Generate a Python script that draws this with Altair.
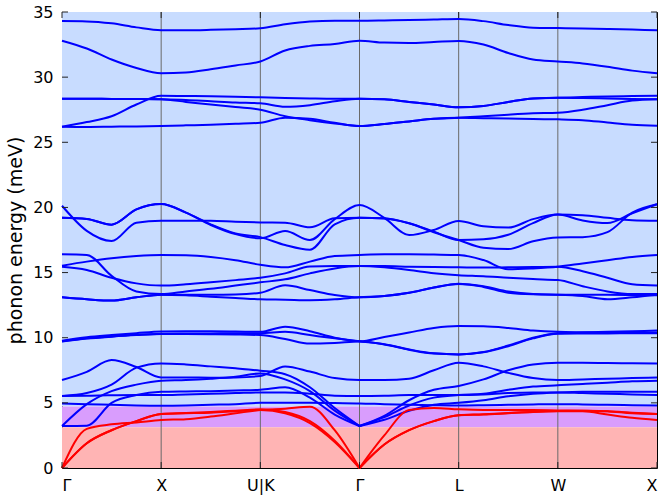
import altair as alt
import pandas as pd

# Path coordinate along the Brillouin-zone route (equal spacing per segment)
k_path = [0, 0.25, 0.5, 0.75, 1, 1.25, 1.5, 1.75, 2, 2.25, 2.5, 2.75, 3,
          3.25, 3.5, 3.75, 4, 4.25, 4.5, 4.75, 5, 5.25, 5.5, 5.75, 6]
sym_pos = [0, 1, 2, 3, 4, 5, 6]
sym_labels = ["Γ", "X", "U|K", "Γ", "L", "W", "X"]
energy_ticks = [0, 5, 10, 15, 20, 25, 30, 35]

# Shaded energy windows (meV): optical range, overlap, acoustic range
window_names = ["optical", "overlap", "acoustic"]
window_lo = [4.72, 3.12, 0.0]
window_hi = [35.0, 4.72, 3.12]

# Optical branches (meV)
h_top = [34.3, 34.28, 34.13, 33.82, 33.6, 33.6, 33.63, 33.68, 33.75, 34.06, 34.27, 34.33, 34.33,
         34.35, 34.38, 34.42, 34.46, 34.3, 34.0, 33.8, 33.77, 33.74, 33.7, 33.65, 33.6]
h_32 = [32.8, 32.2, 31.35, 30.7, 30.3, 30.35, 30.6, 30.9, 31.2, 32.05, 32.4, 32.55, 32.8,
        32.65, 32.62, 32.7, 32.78, 32.5, 31.85, 31.35, 31.2, 31.05, 30.8, 30.5, 30.3]
h_28a = [28.35, 28.35, 28.33, 28.32, 28.3, 28.25, 28.15, 28.05, 27.99, 27.72, 27.85, 28.15, 28.35,
         28.3, 28.1, 27.9, 27.68, 27.78, 28.1, 28.37, 28.42, 28.47, 28.52, 28.55, 28.57]
h_28b = [28.35, 28.35, 28.33, 28.32, 28.3, 28.1, 27.9, 27.7, 27.5, 27.0, 26.7, 26.45, 26.25,
         26.4, 26.6, 26.8, 26.88, 27.0, 27.12, 27.22, 27.27, 27.5, 27.85, 28.2, 28.3]
h_26a = [26.2, 26.55, 27.0, 27.9, 28.57, 28.55, 28.53, 28.5, 28.45, 28.4, 28.37, 28.35, 28.35,
         28.3, 28.1, 27.9, 27.68, 27.78, 28.1, 28.37, 28.42, 28.4, 28.36, 28.32, 28.3]
h_26b = [26.2, 26.18, 26.2, 26.22, 26.25, 26.3, 26.35, 26.42, 26.5, 26.88, 26.8, 26.5, 26.25,
         26.4, 26.6, 26.8, 26.88, 26.85, 26.82, 26.78, 26.76, 26.7, 26.52, 26.35, 26.27]

m_1 = [20.13, 18.2, 17.42, 18.83, 18.98, 18.98, 18.97, 18.9, 18.85, 18.83, 18.47, 19.16, 19.2,
       19.16, 18.78, 18.14, 17.5, 17.55, 17.9, 18.8, 19.45, 19.4, 19.2, 19.02, 18.98]
m_2 = [19.21, 19.12, 18.68, 19.85, 20.26, 19.6, 18.65, 17.95, 17.63, 18.19, 17.5, 19.1, 20.18,
       19.2, 17.88, 18.27, 18.96, 18.55, 18.45, 19.1, 19.45, 19.0, 18.8, 19.55, 20.24]
m_3 = [19.21, 19.12, 18.68, 19.85, 20.26, 19.6, 18.7, 18.0, 17.72, 17.11, 16.75, 18.7, 19.2,
       19.15, 18.78, 18.1, 17.5, 16.9, 16.8, 17.4, 17.7, 17.72, 18.1, 19.6, 20.24]

g_1 = [16.4, 16.35, 14.75, 13.55, 13.35, 13.55, 13.75, 14.0, 14.25, 14.48, 14.94, 15.32, 15.5,
       15.4, 15.2, 14.95, 14.8, 14.72, 14.6, 14.5, 14.43, 13.95, 13.55, 13.35, 13.35]
g_2 = [15.53, 15.84, 16.1, 16.27, 16.35, 16.33, 16.2, 15.95, 15.6, 15.4, 15.84, 16.27, 16.35,
       16.4, 16.4, 16.38, 16.35, 15.96, 15.25, 15.32, 15.45, 15.7, 15.95, 16.2, 16.35]
g_3 = [15.45, 15.2, 14.6, 14.17, 14.0, 14.1, 14.25, 14.42, 14.6, 14.94, 15.46, 15.5, 15.5,
       15.5, 15.45, 15.42, 15.4, 15.38, 15.4, 15.42, 15.45, 15.1, 14.6, 14.1, 14.0]
g_4 = [13.1, 12.95, 12.85, 13.1, 13.3, 13.3, 13.3, 13.32, 13.45, 14.02, 13.66, 13.28, 13.1,
       13.2, 13.45, 13.85, 14.15, 13.9, 13.45, 13.33, 13.3, 13.2, 12.95, 13.1, 13.3]
g_5 = [13.1, 12.95, 12.85, 13.1, 13.3, 13.25, 13.15, 13.05, 12.95, 12.92, 12.88, 12.95, 13.1,
       13.2, 13.45, 13.85, 14.12, 13.95, 13.55, 13.35, 13.3, 13.3, 13.3, 13.28, 13.25]

t_1 = [9.77, 10.03, 10.2, 10.35, 10.48, 10.5, 10.5, 10.48, 10.45, 10.85, 10.5, 10.0, 9.72,
       10.05, 10.4, 10.75, 10.9, 10.88, 10.75, 10.55, 10.45, 10.42, 10.4, 10.4, 10.4]
t_2 = [9.72, 9.95, 10.1, 10.22, 10.3, 10.32, 10.33, 10.35, 10.35, 10.45, 10.2, 9.95, 9.72,
       9.5, 9.1, 8.8, 8.72, 8.9, 9.4, 10.0, 10.35, 10.4, 10.45, 10.5, 10.55]
t_3 = [9.7, 9.93, 10.08, 10.2, 10.28, 10.28, 10.27, 10.25, 10.2, 9.9, 9.55, 9.6, 9.7,
       9.48, 9.08, 8.78, 8.72, 8.88, 9.35, 9.95, 10.3, 10.32, 10.33, 10.34, 10.35]

l_1 = [6.75, 7.38, 8.28, 7.75, 6.95, 6.95, 6.93, 6.95, 7.06, 7.8, 7.4, 6.9, 6.75,
       6.75, 6.85, 7.5, 8.08, 7.8, 7.3, 6.9, 6.75, 6.8, 6.85, 6.9, 6.95]
l_2 = [5.53, 5.75, 6.4, 7.7, 8.03, 7.95, 7.8, 7.65, 7.47, 7.2, 6.2, 4.6, 3.22,
       4.0, 5.2, 6.0, 6.3, 6.8, 7.5, 7.95, 8.08, 8.08, 8.06, 8.04, 8.03]
l_3 = [3.22, 4.9, 5.9, 6.4, 6.7, 6.75, 6.85, 7.0, 7.26, 6.8, 5.9, 4.4, 3.22,
       3.9, 4.8, 5.4, 5.6, 5.7, 6.0, 6.25, 6.35, 6.45, 6.55, 6.65, 6.7]
l_4 = [5.53, 5.55, 5.58, 5.6, 5.6, 5.65, 5.7, 5.75, 5.8, 5.8, 5.7, 5.55, 5.53,
       5.55, 5.6, 5.6, 5.6, 5.65, 5.75, 5.8, 5.8, 5.75, 5.7, 5.65, 5.6]
l_5 = [3.22, 3.25, 5.0, 5.6, 5.85, 5.88, 5.9, 5.95, 6.0, 6.2, 5.4, 4.1, 3.22,
       3.7, 4.4, 4.85, 5.0, 5.2, 5.5, 5.7, 5.8, 5.85, 5.85, 5.85, 5.85]
l_6 = [4.96, 4.9, 4.85, 4.8, 4.78, 4.8, 4.85, 4.9, 5.0, 5.0, 5.0, 4.98, 4.96,
       4.9, 4.85, 4.82, 4.8, 4.82, 4.85, 4.88, 4.9, 4.88, 4.85, 4.82, 4.8]

# Acoustic branches (meV)
a_1 = [0, 3.0, 3.35, 3.5, 3.68, 3.75, 3.95, 4.2, 4.45, 4.55, 4.7, 2.9, 0,
       2.5, 4.45, 4.6, 4.5, 4.45, 4.45, 4.45, 4.42, 4.4, 4.35, 4.2, 4.15]
a_2 = [0, 1.9, 2.9, 3.6, 4.15, 4.2, 4.25, 4.35, 4.45, 4.2, 3.45, 2.0, 0,
       1.8, 2.9, 3.6, 4.05, 4.1, 4.2, 4.3, 4.35, 4.35, 4.1, 3.85, 3.68]
a_3 = [0, 1.9, 2.9, 3.6, 4.15, 4.22, 4.3, 4.4, 4.5, 4.3, 3.6, 2.1, 0,
       1.8, 2.9, 3.6, 4.05, 4.12, 4.22, 4.32, 4.38, 4.4, 4.35, 4.25, 4.15]

optical_bands = {
    "h_top": h_top, "h_32": h_32, "h_28a": h_28a, "h_28b": h_28b, "h_26a": h_26a, "h_26b": h_26b,
    "m_1": m_1, "m_2": m_2, "m_3": m_3,
    "g_1": g_1, "g_2": g_2, "g_3": g_3, "g_4": g_4, "g_5": g_5,
    "t_1": t_1, "t_2": t_2, "t_3": t_3,
    "l_1": l_1, "l_2": l_2, "l_3": l_3, "l_4": l_4, "l_5": l_5, "l_6": l_6,
}
acoustic_bands = {"a_1": a_1, "a_2": a_2, "a_3": a_3}

# Branches with a cusp at the zone-centre point in the middle of the path
cusp_at_gamma = {"a_1", "a_2", "a_3", "l_2", "l_3", "l_5"}
gamma_mid = sym_pos[3]


def to_long(bands):
    rows = []
    for name, vals in bands.items():
        for k, e in zip(k_path, vals):
            if name in cusp_at_gamma:
                if k <= gamma_mid:
                    rows.append({"band": name + "_left", "k": k, "E": e})
                if k >= gamma_mid:
                    rows.append({"band": name + "_right", "k": k, "E": e})
            else:
                rows.append({"band": name, "k": k, "E": e})
    return pd.DataFrame(rows)


opt_df = to_long(optical_bands)
ac_df = to_long(acoustic_bands)
win_df = pd.DataFrame({"region": window_names, "lo": window_lo, "hi": window_hi,
                       "k0": [sym_pos[0]] * 3, "k1": [sym_pos[-1]] * 3})
sym_df = pd.DataFrame({"k": sym_pos, "label": sym_labels})
inner_df = sym_df.iloc[1:-1]
ytick_df = pd.DataFrame({"E": energy_ticks})

W, H = 595, 456
xs = alt.Scale(domain=[0, 6], nice=False, zero=False)
ys = alt.Scale(domain=[0, 35], nice=False, zero=False)

label_expr = "[" + ",".join("'%s'" % s for s in sym_labels) + "][round(datum.value)]"

windows = alt.Chart(win_df).mark_rect().encode(
    x=alt.X("k0:Q", scale=xs, axis=alt.Axis(values=sym_pos, labelExpr=label_expr, title=None,
                                             grid=False, domain=False, ticks=False,
                                             labelFontSize=16, labelPadding=9,
                                             labelColor="#000", labelFont="DejaVu Sans")),
    x2="k1:Q",
    y=alt.Y("lo:Q", scale=ys, axis=alt.Axis(values=energy_ticks, title="phonon energy (meV)",
                                             grid=False, domain=False, ticks=False,
                                             labelFontSize=16, labelPadding=9,
                                             titleFontSize=19, titleFontWeight="normal",
                                             titlePadding=7, labelColor="#000",
                                             titleColor="#000", labelFont="DejaVu Sans",
                                             titleFont="DejaVu Sans")),
    y2="hi:Q",
    color=alt.Color("region:N", scale=alt.Scale(domain=window_names,
                                                range=["#c8dcff", "#d99dfd", "#ffb4b4"]),
                    legend=None),
)

sym_lines = alt.Chart(inner_df).mark_rule(color="#6a6a6a", strokeWidth=1).encode(
    x=alt.X("k:Q", scale=xs)
)

opt_lines = alt.Chart(opt_df).mark_line(color="#0000ff", strokeWidth=2,
                                         interpolate="monotone").encode(
    x=alt.X("k:Q", scale=xs), y=alt.Y("E:Q", scale=ys), detail="band:N"
)
ac_lines = alt.Chart(ac_df).mark_line(color="#ff0000", strokeWidth=2,
                                       interpolate="monotone").encode(
    x=alt.X("k:Q", scale=xs), y=alt.Y("E:Q", scale=ys), detail="band:N"
)

tick_len = 6
left_ticks = alt.Chart(ytick_df).mark_rule(color="#222", strokeWidth=1).encode(
    y=alt.Y("E:Q", scale=ys), x=alt.value(0), x2=alt.value(tick_len))
right_ticks = alt.Chart(ytick_df).mark_rule(color="#222", strokeWidth=1).encode(
    y=alt.Y("E:Q", scale=ys), x=alt.value(W - tick_len), x2=alt.value(W))
top_ticks = alt.Chart(sym_df).mark_rule(color="#222", strokeWidth=1).encode(
    x=alt.X("k:Q", scale=xs), y=alt.value(0), y2=alt.value(tick_len))
bottom_ticks = alt.Chart(sym_df).mark_rule(color="#222", strokeWidth=1).encode(
    x=alt.X("k:Q", scale=xs), y=alt.value(H - tick_len), y2=alt.value(H))

chart = alt.layer(
    windows, sym_lines, opt_lines, ac_lines,
    left_ticks, right_ticks, top_ticks, bottom_ticks,
).properties(
    width=W, height=H,
    autosize=alt.AutoSizeParams(type="none"),
    padding={"left": 62, "top": 12, "right": 3, "bottom": 27},
    background="white",
).configure_view(stroke="#000", strokeWidth=1)

chart.save("out.html", embed_options={"renderer": "svg", "actions": False})
